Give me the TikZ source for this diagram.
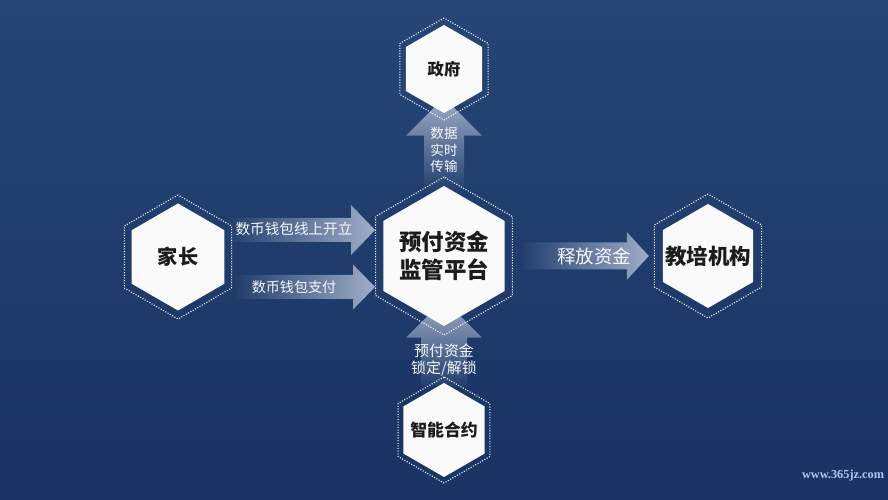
\documentclass[tikz,border=0pt]{standalone}
\usepackage{fontspec}
\setmainfont{Noto Sans CJK SC}
\newfontfamily\sitefont{Liberation Serif}
\usetikzlibrary{calc,shapes.geometric,backgrounds}

\definecolor{bgtop}{RGB}{37,70,118}
\definecolor{bgbottom}{RGB}{25,51,98}
\definecolor{bgmid}{RGB}{31,61,108}
\definecolor{hexwhite}{RGB}{250,250,250}
\definecolor{labelblack}{RGB}{28,28,28}
\definecolor{arrowlight}{RGB}{160,174,200}
\definecolor{webblue}{RGB}{176,200,238}

\begin{document}
\begin{tikzpicture}[
  hexbox/.style={regular polygon, regular polygon sides=6, shape border rotate=30,
    fill=hexwhite, inner sep=-0.9cm, text=labelblack, align=center},
  hexring/.style={regular polygon, regular polygon sides=6, shape border rotate=30,
    draw=white, line width=0.6pt, dash pattern=on 0.6pt off 0.9pt, inner sep=0pt},
  flowtext/.style={text=white!92!arrowlight, align=center}
]
\useasboundingbox (0,0) rectangle (17.76,10);

% hexagons
\node[hexring, minimum size=2.04cm] (gov-ring) at (8.88,8.62) {};
\node[hexbox, minimum size=1.76cm, font=\fontsize{9.3}{11}\selectfont\bfseries] (gov) at (gov-ring) {政府};

\node[hexring, minimum size=3.16cm] (platform-ring) at (8.88,4.88) {};
\node[hexbox, minimum size=2.80cm, font=\fontsize{12.8}{15.6}\selectfont\bfseries] (platform) at (platform-ring) {预付资金\\监管平台};

\node[hexring, minimum size=2.48cm] (parent-ring) at (3.56,4.86) {};
\node[hexbox, minimum size=2.14cm, font=\fontsize{11.5}{14}\selectfont\bfseries] (parent) at (parent-ring) {家长};

\node[hexring, minimum size=2.48cm] (org-ring) at (14.16,4.88) {};
\node[hexbox, minimum size=2.08cm, font=\fontsize{12.2}{14}\selectfont\bfseries] (org) at (org-ring) {教培机构};

\node[hexring, minimum size=2.12cm] (contract-ring) at (8.88,1.40) {};
\node[hexbox, minimum size=1.88cm, font=\fontsize{9.6}{12}\selectfont\bfseries] (contract) at (contract-ring) {智能合约};

% flow arrows, under the hexagons
\begin{pgfonlayer}{background}
  \shade[top color=bgtop, bottom color=bgbottom] (0,0) rectangle (17.76,10);

  \coordinate (open-tail) at (4.50,5.40);
  \coordinate (open-tip) at (platform-ring.west |- open-tail);
  \shade[left color=bgmid, right color=arrowlight] ($(open-tail)+(0,0.24)$) -- ($(open-tip)+(-0.48,0.24)$)
    -- ($(open-tip)+(-0.48,0.50)$) -- (open-tip) -- ($(open-tip)+(-0.48,-0.50)$)
    -- ($(open-tip)+(-0.48,-0.24)$) -- ($(open-tail)+(0,-0.24)$) -- cycle;

  \coordinate (pay-tail) at (4.70,4.26);
  \coordinate (pay-tip) at (platform-ring.west |- pay-tail);
  \shade[left color=bgmid, right color=arrowlight] ($(pay-tail)+(0,0.24)$) -- ($(pay-tip)+(-0.44,0.24)$)
    -- ($(pay-tip)+(-0.44,0.45)$) -- (pay-tip) -- ($(pay-tip)+(-0.44,-0.45)$)
    -- ($(pay-tip)+(-0.44,-0.24)$) -- ($(pay-tail)+(0,-0.24)$) -- cycle;

  \coordinate (release-tail) at (10.40,4.88);
  \coordinate (release-tip) at ($(org-ring.west |- release-tail)+(-0.1,0)$);
  \shade[left color=bgmid, right color=arrowlight] ($(release-tail)+(0,0.27)$) -- ($(release-tip)+(-0.44,0.27)$)
    -- ($(release-tip)+(-0.44,0.48)$) -- (release-tip) -- ($(release-tip)+(-0.44,-0.48)$)
    -- ($(release-tip)+(-0.44,-0.27)$) -- ($(release-tail)+(0,-0.27)$) -- cycle;

  \coordinate (sync-base) at ($(gov-ring.south)+(0,-0.30)$);
  \shade[top color=arrowlight, bottom color=bgmid] ($(platform-ring.north)+(-0.40,-0.30)$) -- ($(sync-base)+(-0.40,0)$)
    -- ($(sync-base)+(-0.76,0)$) -- ($(sync-base)+(0,0.76)$) -- ($(sync-base)+(0.76,0)$)
    -- ($(sync-base)+(0.40,0)$) -- ($(platform-ring.north)+(0.40,-0.30)$) -- cycle;

  \coordinate (lock-base) at ($(platform-ring.south)+(0,-0.04)$);
  \shade[top color=arrowlight, bottom color=bgmid] ($(contract-ring.north)+(-0.46,-0.20)$) -- ($(lock-base)+(-0.46,0)$)
    -- ($(lock-base)+(-0.76,0)$) -- ($(lock-base)+(0,0.76)$) -- ($(lock-base)+(0.76,0)$)
    -- ($(lock-base)+(0.46,0)$) -- ($(contract-ring.north)+(0.46,-0.20)$) -- cycle;
\end{pgfonlayer}

% arrow labels
\node[flowtext, font=\fontsize{7.7}{9.3}\selectfont] (sync-txt) at (8.88,7.0) {数据\\实时\\传输};
\node[flowtext, font=\fontsize{8.5}{9.4}\selectfont] (lock-txt) at (8.88,2.8) {预付资金\\锁定/解锁};
\node[flowtext, font=\fontsize{8.3}{10}\selectfont] (open-txt) at (5.88,5.42) {数币钱包线上开立};
\node[flowtext, font=\fontsize{8.0}{10}\selectfont] (pay-txt) at (5.88,4.26) {数币钱包支付};
\node[flowtext, font=\fontsize{10.5}{12}\selectfont] (release-txt) at (11.88,4.88) {释放资金};

\node[font=\sitefont\bfseries\fontsize{7.0}{8}\selectfont, text=webblue] (site) at (16.86,0.48) {www.365jz.com};
\end{tikzpicture}
\end{document}
